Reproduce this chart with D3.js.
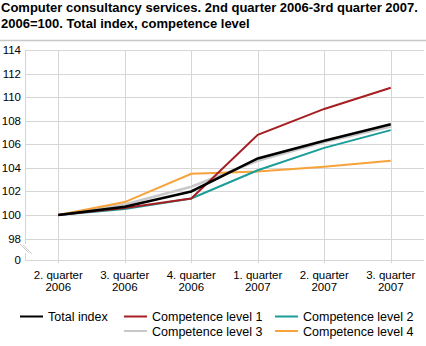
<!DOCTYPE html>
<html>
<head>
<meta charset="utf-8">
<script src="https://cdn.jsdelivr.net/npm/d3@7"></script>
<style>
	body { margin: 0; background: #fff; }
	svg { display: block; }
	svg text { font-family: "Liberation Sans", Arial, Helvetica, sans-serif; }
</style>
</head>
<body>
<svg id="chart" width="426" height="346"></svg>
<script>

const quarters = ["2. quarter|2006", "3. quarter|2006", "4. quarter|2006", "1. quarter|2007", "2. quarter|2007", "3. quarter|2007"];
const total_index = [100, 100.7, 102.0, 104.8, 106.3, 107.7];
const level_1 = [100, 100.6, 101.4, 106.8, 109.0, 110.8];
const level_2 = [100, 100.5, 101.4, 103.8, 105.7, 107.2];
const level_3 = [100, 100.9, 102.4, 104.6, 106.2, 107.5];
const level_4 = [100, 101.1, 103.5, 103.7, 104.1, 104.6];
const y_ticks = [0, 98, 100, 102, 104, 106, 108, 110, 112, 114];

const series = [
	{name: "Competence level 3", values: level_3, color: "#c8c8c8", width: 2.5},
	{name: "Competence level 4", values: level_4, color: "#f7a33a", width: 2},
	{name: "Competence level 2", values: level_2, color: "#1a9c98", width: 2},
	{name: "Competence level 1", values: level_1, color: "#a61e22", width: 2},
	{name: "Total index", values: total_index, color: "#000000", width: 2.5}
];

const svg = d3.select("#chart");

// title
const title = svg.append("text").attr("font-weight", "bold").attr("font-size", 13).attr("fill", "#000");
title.append("tspan").attr("x", 1).attr("y", 12).text("Computer consultancy services. 2nd quarter 2006-3rd quarter 2007.");
title.append("tspan").attr("x", 1).attr("y", 28).text("2006=100. Total index, competence level");
svg.append("line").attr("x1", 0).attr("x2", 426).attr("y1", 40.5).attr("y2", 40.5)
	.attr("stroke", "#c8c8c8").attr("stroke-width", 1.5);

// scales, y is broken between 0 and 98
const x = d3.scaleBand().domain(quarters).range([25, 424]);
const y = d3.scaleLinear().domain([0, 98, 114]).range([260, 238.6, 50]);
const cx = d => x(d) + x.bandwidth() / 2;

// grid
svg.append("g").selectAll("line").data(y_ticks).enter().append("line")
	.attr("x1", 25).attr("x2", 424)
	.attr("y1", d => Math.round(y(d)) + 0.5).attr("y2", d => Math.round(y(d)) + 0.5)
	.attr("stroke", "#d6d6d6").attr("stroke-width", 1);
svg.append("g").selectAll("line").data(quarters).enter().append("line")
	.attr("x1", d => Math.round(cx(d)) + 0.5).attr("x2", d => Math.round(cx(d)) + 0.5)
	.attr("y1", y(114)).attr("y2", y(0) + 3)
	.attr("stroke", "#d6d6d6").attr("stroke-width", 1);

// y axis line with break marks
svg.append("line").attr("x1", 25.5).attr("x2", 25.5).attr("y1", y(114)).attr("y2", 244)
	.attr("stroke", "#d6d6d6");
svg.append("line").attr("x1", 25.5).attr("x2", 25.5).attr("y1", 253).attr("y2", y(0))
	.attr("stroke", "#d6d6d6");
[0, 3].forEach(off => {
	svg.append("line").attr("x1", 20 + off).attr("y1", 244 + off * 0.3).attr("x2", 29 + off).attr("y2", 253 + off * 0.3)
		.attr("stroke", "#c8c8c8").attr("stroke-width", 1);
});

// y labels
svg.append("g").selectAll("text").data(y_ticks).enter().append("text")
	.attr("x", 21).attr("y", d => y(d) + 4)
	.attr("text-anchor", "end").attr("font-size", 11.5).attr("fill", "#000")
	.text(d => d);

// x labels
const xl = svg.append("g").selectAll("text").data(quarters).enter().append("text")
	.attr("text-anchor", "middle").attr("font-size", 11.5).attr("fill", "#000");
xl.append("tspan").attr("x", cx).attr("y", 278.5).text(d => d.split("|")[0]);
xl.append("tspan").attr("x", cx).attr("y", 291.2).text(d => d.split("|")[1]);

// lines
const line = d3.line().x((d, i) => cx(quarters[i])).y(d => y(d));
svg.append("g").selectAll("path").data(series).enter().append("path")
	.attr("d", d => line(d.values))
	.attr("fill", "none")
	.attr("stroke", d => d.color)
	.attr("stroke-width", d => d.width)
	.attr("stroke-linejoin", "miter");

// legend
const legend_items = [
	{name: "Total index", color: "#000000", x: 20, y: 316.5},
	{name: "Competence level 1", color: "#a61e22", x: 124, y: 316.5},
	{name: "Competence level 2", color: "#1a9c98", x: 275, y: 316.5},
	{name: "Competence level 3", color: "#c8c8c8", x: 124, y: 331},
	{name: "Competence level 4", color: "#f7a33a", x: 275, y: 331}
];
const lg = svg.append("g").selectAll("g").data(legend_items).enter().append("g")
	.attr("transform", d => `translate(${d.x},${d.y})`);
lg.append("line").attr("x1", 0).attr("x2", 23).attr("y1", 0).attr("y2", 0)
	.attr("stroke", d => d.color).attr("stroke-width", 2);
lg.append("text").attr("x", 28).attr("y", 4.5).attr("font-size", 12.5).attr("fill", "#000")
	.text(d => d.name);

</script>
</body>
</html>
